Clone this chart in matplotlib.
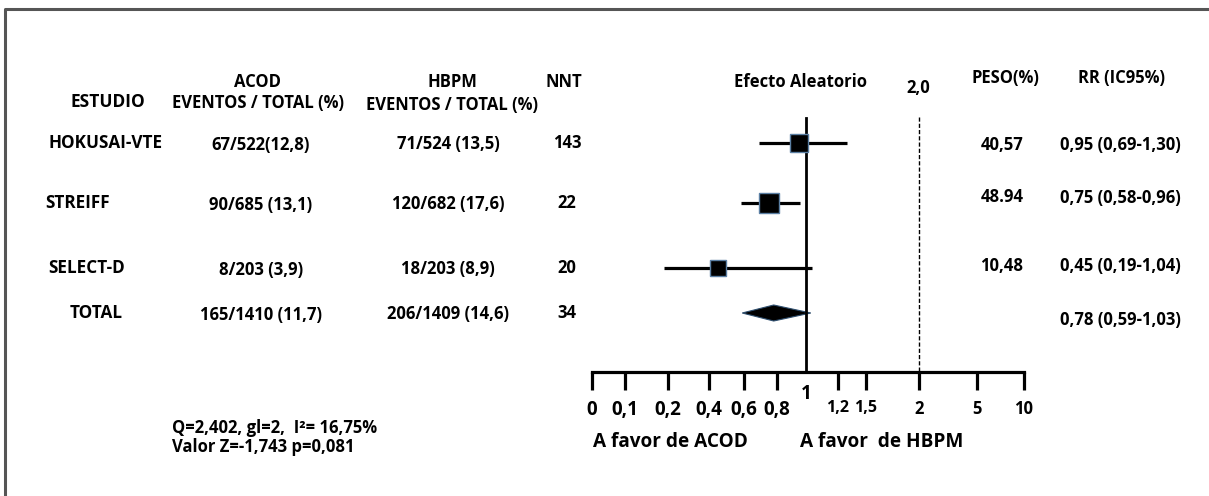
import numpy as np
import matplotlib
matplotlib.use('Agg')
import matplotlib.pyplot as plt

plt.rcParams['font.family'] = ['Open Sans', 'DejaVu Sans']
plt.rcParams['font.weight'] = 'bold'

# datos del metaanalisis
estudios = ['HOKUSAI-VTE', 'STREIFF', 'SELECT-D', 'TOTAL']
acod = ['67/522(12,8)', '90/685 (13,1)', '8/203 (3,9)', '165/1410 (11,7)']
hbpm = ['71/524 (13,5)', '120/682 (17,6)', '18/203 (8,9)', '206/1409 (14,6)']
nnt = ['143', '22', '20', '34']
peso = [40.57, 48.94, 10.48]
peso_txt = ['40,57', '48.94', '10,48']
rr = [0.95, 0.75, 0.45, 0.78]
ic_lo = [0.69, 0.58, 0.19, 0.59]
ic_hi = [1.30, 0.96, 1.04, 1.03]
rr_txt = ['0,95 (0,69-1,30)', '0,75 (0,58-0,96)', '0,45 (0,19-1,04)', '0,78 (0,59-1,03)']
tick_vals = [0, 0.1, 0.2, 0.4, 0.6, 0.8, 1, 1.2, 1.5, 2, 5, 10]
tick_labels = ['0', '0,1', '0,2', '0,4', '0,6', '0,8', '1', '1,2', '1,5', '2', '5', '10']
estadisticos = ['Q=2,402, gl=2,  I\u00b2= 16,75%', 'Valor Z=-1,743 p=0,081']

# escala irregular del eje (posicion en pixeles de cada marca)
tick_px = [592, 625, 668, 709, 744, 777, 806, 838, 866, 919, 977, 1024]
esc_vals = np.array([-10] + tick_vals + [100], dtype=float)
esc_px = np.array([0] + tick_px + [1209], dtype=float)

def fwd(v):
    return np.interp(v, esc_vals, esc_px)

def inv(p):
    return np.interp(p, esc_px, esc_vals)

W, H = 1209, 496
fig = plt.figure(figsize=(W / 100, H / 100), dpi=100)
ax = fig.add_axes([0, 0, 1, 1])
ax.set_xlim(0, W)
ax.set_ylim(H, 0)
ax.axis('off')

# marco
ax.plot([5, 5, W], [H, 9, 9], color='#555555', lw=2.2, solid_capstyle='butt')

fs = 12
def t(x, y, s, ha='center', size=fs):
    ax.text(x, y, s, ha=ha, va='center', fontsize=size, fontweight='bold', color='black')

# cabeceras
t(108, 102, 'ESTUDIO', size=12.5)
t(258, 82, 'ACOD')
t(258, 103, 'EVENTOS / TOTAL (%)')
t(452, 82, 'HBPM')
t(452, 105, 'EVENTOS / TOTAL (%)')
t(564, 82, 'NNT')
t(800, 82, 'Efecto Aleatorio')
t(918, 88, '2,0')
t(1005, 78, 'PESO(%)')
t(1122, 78, 'RR (IC95%)')

fila_y = [143, 203, 268, 313]
est_x = [106, 78, 87, 96]
for i in range(4):
    y = fila_y[i]
    t(est_x[i], y, estudios[i], size=12.3)
    t(261, y + 2, acod[i])
    t(448, y + 1, hbpm[i])
    t(567, y, nnt[i])
peso_y = [145, 197, 266]
for i in range(3):
    t(1002, peso_y[i], peso_txt[i])
rr_y = [145, 198, 266, 320]
for i in range(4):
    t(1120, rr_y[i], rr_txt[i])

t(172, 428, estadisticos[0], ha='left')
t(172, 447, estadisticos[1], ha='left')
t(670, 442, 'A favor de ACOD', size=13.7)
t(882, 442, 'A favor  de HBPM', size=13.7)
t(806, 394, '1', size=13.5)

# grafico de bosque
fx = fig.add_axes([0, 0, 1, 1], facecolor='none')
fx.set_xscale('function', functions=(fwd, inv))
fx.set_xlim(-10, 100)
fx.set_ylim(H, 0)
for s in ['top', 'left', 'right']:
    fx.spines[s].set_visible(False)
fx.spines['bottom'].set_position(('data', 372))
fx.spines['bottom'].set_bounds(0, 10)
fx.spines['bottom'].set_linewidth(2.3)
ticks = [v for v in tick_vals if v != 1]
labs = [l for v, l in zip(tick_vals, tick_labels) if v != 1]
fx.set_xticks(ticks)
fx.set_xticklabels(labs, fontweight='bold')
for v, lab in zip(ticks, fx.get_xticklabels()):
    if v < 1:
        lab.set_fontsize(13.5)
    elif v < 2:
        lab.set_fontsize(11.5)
    else:
        lab.set_fontsize(12)
fx.set_xticks([], minor=True)
fx.tick_params(axis='x', direction='out', length=13, width=2.3, pad=7)
fx.set_yticks([])

fx.plot([1, 1], [118, 372], color='black', lw=2.0)
fx.plot([2, 2], [117, 372], color='black', lw=1.0, ls=(0, (3, 1.5)))

for i in range(3):
    y = fila_y[i]
    fx.plot([ic_lo[i], ic_hi[i]], [y, y], color='black', lw=2.3, solid_capstyle='butt')
    fx.plot(rr[i], y, marker='s', ms=10 + peso[i] * 0.08, color='black',
            mec='#5b7fa3', mew=1.0)

yd = fila_y[3]
fx.fill([ic_lo[3], rr[3], ic_hi[3], rr[3]], [yd, yd - 8, yd, yd + 8],
        color='black', ec='#2f4f6f', lw=0.8)

fig.savefig('out.png', dpi=100)
